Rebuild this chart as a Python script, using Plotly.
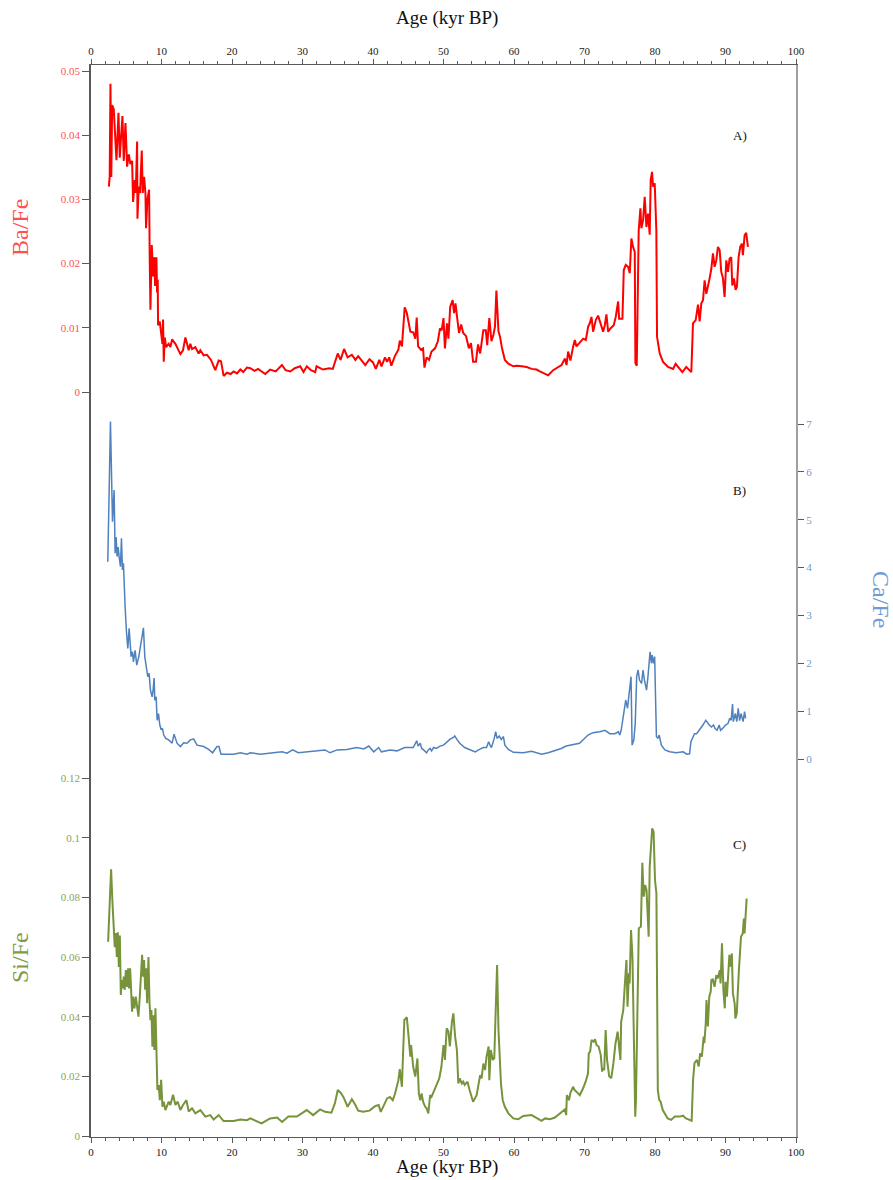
import plotly.graph_objects as go

# ---------------- data ----------------
ba_age = [2.53, 2.65, 2.76, 2.88, 3.00, 3.23, 3.61, 3.90, 4.08, 4.27, 4.46, 4.65, 4.89, 5.12, 5.36, 5.59, 5.83, 5.97,
          6.21, 6.35, 6.54, 6.59, 6.77, 6.96, 7.20, 7.34, 7.53, 7.72, 7.81, 8.00, 8.24, 8.33, 8.43, 8.62, 8.81, 8.99,
          9.09, 9.28, 9.37, 9.47, 9.51, 9.75, 9.94, 10.13, 10.22, 10.32, 10.46, 10.65, 11.02, 11.26, 11.50, 11.97,
          12.68, 13.05, 13.39, 13.86, 14.09, 14.33, 14.80, 15.27, 15.51, 15.98, 16.45, 17.02, 17.63, 18.11, 18.44,
          18.81, 19.29, 19.8, 20.23, 20.7, 21.18, 21.6, 22.12,
          22.6, 23.2, 23.7, 24.72, 25.4, 26.2, 27.08, 27.6, 28.26, 28.9, 29.67, 30.14, 30.62, 31.2, 31.80, 32.0, 32.9, 33.8, 34.3,
          35.0, 35.4, 35.9, 36.4, 37.0, 37.5, 37.9, 38.9, 39.5, 40.0, 40.4, 40.9, 41.2, 41.7, 42.0, 42.3, 42.6,
          43.1, 43.6, 43.8, 44.1, 44.5, 44.8, 45.3, 45.7, 46.0, 46.2, 46.4, 46.8, 47.1, 47.3, 47.6, 47.95, 48.3,
          48.8, 49.2, 49.5, 49.74, 50.0, 50.2, 50.5, 50.7, 50.95, 51.3, 51.5, 51.7, 52.0, 52.2, 52.5, 52.8, 53.2,
          53.6, 53.9, 54.2, 54.6, 54.9, 55.2, 55.4, 55.65, 56.0, 56.2, 56.5, 56.8, 57.1, 57.3, 57.5, 57.8, 58.0,
          58.3, 58.7, 59.2, 59.9, 60.4, 61.1, 61.8, 62.5, 63.2,
          63.67, 64.85, 65.56, 66.27, 66.74, 67.21, 67.45, 67.68, 68.01, 68.39, 68.63, 68.86, 69.34, 69.81, 70.19,
          70.52, 70.75, 70.99, 71.22, 71.60, 71.93, 72.31, 72.64, 72.88, 73.11, 73.35, 73.68, 74.15, 74.43, 74.77,
          74.91, 75.38, 75.57, 75.85, 76.18, 76.42, 76.65, 76.89, 77.13, 77.22, 77.41, 77.69, 77.93, 78.07, 78.31,
          78.54, 78.78, 79.01, 79.25, 79.39, 79.58, 79.72, 79.96, 80.19, 80.29, 80.67, 81.14, 81.85, 82.56, 82.93,
          83.50, 83.88, 84.44, 85.15, 85.39, 85.77, 86.10, 86.33, 86.57, 86.81, 87.04, 87.28, 87.75, 87.99, 88.22,
          88.46, 88.69, 88.93, 89.17, 89.40, 89.64, 89.87, 90.11, 90.35, 90.58, 90.82, 90.96, 91.20, 91.43, 91.62,
          91.86, 92.09, 92.33, 92.47, 92.71, 92.94, 93.18]
ba_fe = [0.032, 0.0335, 0.048, 0.0335, 0.0447, 0.044, 0.0361, 0.0435, 0.0365, 0.040, 0.043, 0.036, 0.0419, 0.0351,
         0.037, 0.0355, 0.036, 0.0296, 0.033, 0.031, 0.039, 0.027, 0.032, 0.031, 0.0376, 0.031, 0.0335, 0.031, 0.0255,
         0.030, 0.0315, 0.0206, 0.0128, 0.0229, 0.018, 0.021, 0.0165, 0.021, 0.0155, 0.0175, 0.0104, 0.011, 0.0095,
         0.0075, 0.0113, 0.0047, 0.0085, 0.007, 0.0075, 0.007, 0.0082, 0.0075, 0.0059, 0.0065, 0.0085, 0.0065,
         0.0075, 0.0067, 0.007, 0.006, 0.0065, 0.0057, 0.0058, 0.005, 0.0034, 0.0049, 0.0048, 0.0025, 0.003, 0.0028,
         0.0032, 0.0029, 0.0035, 0.0031, 0.0038,
         0.0037, 0.0033, 0.0036, 0.0028, 0.0035, 0.0032, 0.0042, 0.0034, 0.0032, 0.0037, 0.004, 0.0031, 0.004, 0.0034, 0.0031, 0.004,
         0.0035, 0.0037, 0.0036, 0.006, 0.005, 0.0067, 0.0054, 0.0058, 0.005, 0.0056, 0.0042, 0.0051, 0.0046,
         0.0036, 0.005, 0.004, 0.0054, 0.0047, 0.0054, 0.0041, 0.0056, 0.0066, 0.008, 0.0071, 0.0132, 0.0123,
         0.0094, 0.0093, 0.0083, 0.0116, 0.0071, 0.0066, 0.0068, 0.0038, 0.0054, 0.005, 0.0063, 0.0068, 0.0079,
         0.0099, 0.0096, 0.0115, 0.0068, 0.0107, 0.0083, 0.0133, 0.0143, 0.0123, 0.0138, 0.011, 0.0092, 0.0105,
         0.0092, 0.0087, 0.0068, 0.0076, 0.0047, 0.0047, 0.0074, 0.006, 0.0074, 0.0096, 0.0096, 0.0073, 0.0115,
         0.0079, 0.009, 0.0102, 0.0158, 0.0094, 0.0087, 0.0068, 0.005, 0.0044, 0.004, 0.0041, 0.004, 0.0039,
         0.0036, 0.0035,
         0.0032, 0.0026, 0.0034, 0.0039, 0.0042, 0.0052, 0.0042, 0.0063, 0.0049, 0.0071, 0.0081, 0.0071, 0.0078,
         0.0083, 0.0081, 0.0102, 0.0107, 0.0117, 0.0094, 0.0112, 0.0119, 0.0107, 0.0094, 0.0104, 0.0121, 0.0094,
         0.0099, 0.0104, 0.0117, 0.0141, 0.0114, 0.0114, 0.019, 0.0198, 0.0195, 0.0185, 0.0239, 0.0226, 0.0218,
         0.0045, 0.0041, 0.0252, 0.0286, 0.0255, 0.0268, 0.0304, 0.0257, 0.0278, 0.0245, 0.033, 0.0343, 0.032,
         0.0325, 0.0252, 0.0086, 0.006, 0.0047, 0.0039, 0.0036, 0.0044, 0.0036, 0.0031, 0.0039, 0.0031, 0.0107,
         0.0112, 0.0136, 0.011, 0.0138, 0.0143, 0.0174, 0.0153, 0.0177, 0.0192, 0.0216, 0.0195, 0.0205, 0.0226,
         0.0221, 0.0187, 0.0177, 0.0148, 0.0205, 0.0187, 0.0208, 0.021, 0.0166, 0.0177, 0.0159, 0.0164, 0.021,
         0.0226, 0.0231, 0.0213, 0.0244, 0.0248, 0.0226]

ca_age = [2.38, 2.76, 3.05, 3.28, 3.42, 3.56, 3.70, 3.85, 3.99, 4.18, 4.32, 4.46, 4.60, 4.70, 4.84, 5.03, 5.22, 5.41,
          5.55, 5.69, 5.88, 6.02, 6.26, 6.49, 6.78, 7.01, 7.25, 7.44, 7.63, 7.86, 8.05, 8.24, 8.43, 8.67, 8.81, 8.95,
          9.05, 9.24, 9.38, 9.57, 9.76, 9.95, 10.13, 10.32, 10.60, 11.02, 11.50, 11.78, 12.20, 12.68, 13.15, 13.62,
          14.09, 14.56, 15.04, 15.98, 16.69, 17.25, 17.87, 18.15, 18.44, 20.23, 21.18, 22.12,
          22.6, 24.0, 25.4, 27.1, 27.8, 28.6, 29.4, 30.9, 32.3, 33.2, 33.9, 34.9, 36.3, 37.7, 38.7, 39.4, 40.1,
          40.8, 41.2, 42.4, 43.4, 44.5, 45.0, 45.7, 46.2, 46.4, 46.7, 46.9, 47.1, 47.4, 47.6, 47.85, 48.1, 48.3,
          48.6, 49.0, 49.5, 50.0, 50.5, 50.9, 51.4, 51.6, 51.9, 52.3, 53.0, 53.8, 54.5, 55.1, 55.65, 56.1, 56.4,
          56.6, 56.8, 57.2, 57.4, 57.6, 57.9, 58.2, 58.5, 58.7, 59.2, 59.9, 61.3, 62.5, 63.2, 63.9, 64.85, 65.8,
          66.7, 67.4, 67.9, 68.4, 69.3, 70.5, 71.2,
          72.17, 72.9, 73.6, 74.3, 74.8, 75.0, 75.2, 75.5, 75.85, 76.1, 76.3, 76.6, 76.75, 77.0, 77.2, 77.4, 77.6,
          77.8, 78.1, 78.3, 78.5, 78.8, 79.0, 79.3, 79.5, 79.6, 79.8, 79.95, 80.2, 80.4, 80.6, 80.9, 81.4, 82.1,
          83.0, 84.0, 84.5, 84.9, 85.1, 85.4, 85.6, 85.9, 86.3, 86.8, 87.2, 87.4, 87.7, 88.0, 88.3, 88.5, 88.8,
          89.1, 89.3, 89.6, 90.0, 90.35, 90.6, 90.8, 91.0, 91.1, 91.4, 91.6, 91.8, 92.0, 92.2, 92.5, 92.7, 92.85]
ca_fe = [4.12, 7.05, 4.96, 5.62, 4.30, 4.64, 4.23, 4.43, 4.23, 4.02, 4.61, 3.95, 4.09, 3.50, 3.18, 2.66, 2.31, 2.73,
         2.38, 2.14, 2.24, 2.03, 2.27, 1.96, 2.14, 2.38, 2.63, 2.74, 2.14, 1.93, 1.72, 1.79, 1.44, 1.30, 1.44, 1.69,
         1.23, 1.30, 0.81, 0.95, 0.71, 0.61, 0.64, 0.50, 0.43, 0.40, 0.33, 0.52, 0.33, 0.26, 0.34, 0.33, 0.40, 0.42,
         0.29, 0.26, 0.20, 0.13, 0.26, 0.26, 0.10, 0.10, 0.13, 0.10,
         0.13, 0.10, 0.12, 0.15, 0.12, 0.19, 0.13, 0.15, 0.17, 0.19, 0.13, 0.19, 0.20, 0.24, 0.21, 0.27, 0.15,
         0.24, 0.15, 0.19, 0.17, 0.24, 0.24, 0.24, 0.38, 0.27, 0.33, 0.22, 0.20, 0.15, 0.13, 0.19, 0.22, 0.17,
         0.24, 0.22, 0.27, 0.29, 0.36, 0.41, 0.45, 0.48, 0.41, 0.33, 0.24, 0.20, 0.15, 0.20, 0.24, 0.24, 0.36,
         0.29, 0.24, 0.43, 0.57, 0.43, 0.48, 0.41, 0.47, 0.29, 0.20, 0.14, 0.13, 0.16, 0.13, 0.10, 0.13, 0.17,
         0.22, 0.27, 0.29, 0.31, 0.33, 0.50, 0.55,
         0.57, 0.60, 0.53, 0.53, 0.57, 0.50, 0.60, 0.85, 1.23, 1.06, 1.30, 1.72, 0.29, 0.40, 0.75, 1.72, 1.86,
         1.65, 1.58, 1.86, 1.65, 1.44, 1.72, 2.24, 2.00, 2.17, 2.00, 2.14, 0.47, 0.43, 0.50, 0.29, 0.19, 0.15,
         0.13, 0.15, 0.10, 0.11, 0.36, 0.47, 0.53, 0.53, 0.60, 0.71, 0.81, 0.76, 0.71, 0.67, 0.71, 0.64, 0.60,
         0.71, 0.60, 0.64, 0.71, 0.74, 0.85, 0.81, 1.15, 0.78, 0.95, 0.78, 1.06, 0.80, 0.95, 0.78, 0.99, 0.85]

si_age = [2.43, 2.85, 3.05, 3.23, 3.37, 3.52, 3.66, 3.80, 3.95, 4.09, 4.23, 4.37, 4.51, 4.65, 4.79, 4.94, 5.12, 5.27,
          5.41, 5.55, 5.69, 5.83, 5.97, 6.16, 6.35, 6.54, 6.73, 6.92, 7.11, 7.25, 7.39, 7.53, 7.68, 7.82, 7.96, 8.15,
          8.29, 8.43, 8.57, 8.71, 8.85, 8.99, 9.14, 9.28, 9.42, 9.61, 9.76, 9.95, 10.13, 10.32, 10.55, 11.02, 11.26,
          11.64, 11.97, 12.30, 12.68, 13.05, 13.53, 13.86, 14.33, 14.80, 15.51, 16.22, 16.92, 17.40, 18.11, 18.81,
          20.23, 21.18, 22.12,
          22.6, 24.2, 25.4, 26.4, 27.1, 28.0, 29.2, 30.6, 31.5, 32.5, 33.2, 34.1, 34.6, 35.0, 35.4, 35.8, 36.4,
          37.0, 37.5, 37.9, 38.6, 39.5, 40.3, 40.8, 41.1, 41.5, 42.0, 42.4, 42.8, 43.1, 43.6, 43.8, 44.1, 44.3,
          44.45, 44.8, 45.0, 45.3, 45.4, 45.7, 46.0, 46.3, 46.5, 46.7, 46.9, 47.1, 47.4, 47.6, 47.85, 48.1, 48.3,
          48.6, 49.0, 49.4, 49.7, 50.0, 50.2, 50.45, 50.7, 50.9, 51.2, 51.4, 51.65, 51.9, 52.1, 52.3, 52.6, 52.8,
          53.0, 53.4, 53.7, 54.0, 54.2, 54.7, 55.2, 55.4, 55.65, 55.9, 56.1, 56.4, 56.5, 56.7, 57.0, 57.2, 57.4,
          57.6, 57.8, 58.0, 58.15, 58.4, 58.7, 59.2, 59.9, 60.6, 61.3, 62.5, 63.2, 63.9, 64.4, 65.1, 65.8, 66.5,
          67.2, 67.4, 67.5, 67.8, 68.0, 68.4, 68.6, 69.1,
          69.33, 69.8, 70.16, 70.5, 70.6, 70.8, 71.0, 71.3, 71.5, 71.7, 72.0, 72.3, 72.5, 72.6, 72.8, 73.0, 73.2,
          73.5, 73.8, 74.1, 74.4, 74.7, 74.9, 75.1, 75.2, 75.5, 75.7, 75.95, 76.1, 76.3, 76.4, 76.6, 76.8, 77.0,
          77.2, 77.3, 77.6, 77.7, 78.0, 78.1, 78.2, 78.4, 78.6, 78.8, 79.0, 79.1, 79.25, 79.4, 79.6, 79.8, 80.0,
          80.2, 80.4, 80.6, 80.8, 81.1, 81.5, 81.8, 82.3, 82.8, 83.5, 83.97, 84.4, 85.05, 85.2, 85.4, 85.6, 85.95,
          86.2, 86.4, 86.65, 86.9, 87.0, 87.2, 87.3, 87.5, 87.7, 87.9, 88.0, 88.2, 88.45, 88.7, 88.9, 89.2, 89.3,
          89.5, 89.7, 89.9, 90.0, 90.2, 90.35, 90.55, 90.7, 90.9, 91.05, 91.3, 91.4, 91.6, 91.9, 92.2, 92.45, 92.6,
          92.7, 93.0]
si_fe = [0.0651, 0.0894, 0.078, 0.0666, 0.0633, 0.068, 0.060, 0.0683, 0.0567, 0.0672, 0.0473, 0.0523, 0.0495, 0.0534,
         0.049, 0.0556, 0.050, 0.0562, 0.0495, 0.0562, 0.0456, 0.0417, 0.0467, 0.0428, 0.0467, 0.044, 0.040, 0.0467,
         0.0534, 0.0607, 0.0534, 0.059, 0.049, 0.0562, 0.0445, 0.060, 0.0456, 0.0388, 0.0422, 0.0299, 0.0405,
         0.0288, 0.0428, 0.0227, 0.0154, 0.0171, 0.0120, 0.0188, 0.0098, 0.0115, 0.0087, 0.0115, 0.0104, 0.0138,
         0.0104, 0.0115, 0.0087, 0.0104, 0.012, 0.0082, 0.0093, 0.0076, 0.0087, 0.0065, 0.007, 0.0055, 0.007, 0.005,
         0.005, 0.0055, 0.0053,
         0.0059, 0.0042, 0.0059, 0.0062, 0.0047, 0.0065, 0.0065, 0.0087, 0.0070, 0.0089, 0.0081, 0.0078, 0.011,
         0.0154, 0.0145, 0.0131, 0.0098, 0.0123, 0.0104, 0.0085, 0.0081, 0.0085, 0.01, 0.0104, 0.0081, 0.01,
         0.0126, 0.0131, 0.012, 0.014, 0.0187, 0.0224, 0.0165, 0.030, 0.0389, 0.0398, 0.0333, 0.0266, 0.0305,
         0.0232, 0.0199, 0.026, 0.0143, 0.012, 0.0143, 0.0115, 0.0098, 0.0093, 0.0076, 0.0137, 0.0131, 0.0148,
         0.0176, 0.0193, 0.0232, 0.0305, 0.0255, 0.0361, 0.035, 0.030, 0.0383, 0.0411, 0.0333, 0.0288, 0.0176,
         0.0193, 0.0176, 0.0182, 0.0171, 0.0182, 0.0154, 0.0126, 0.0115, 0.0137, 0.0204, 0.0193, 0.0243, 0.0221,
         0.0266, 0.030, 0.0187, 0.0288, 0.0255, 0.026, 0.0400, 0.0573, 0.0355, 0.0266, 0.0176, 0.012, 0.0098,
         0.0076, 0.0059, 0.0056, 0.0067, 0.007, 0.0061, 0.0051, 0.0059, 0.0056, 0.0062, 0.0076, 0.0089, 0.007,
         0.0137, 0.012, 0.0145, 0.0165, 0.0154, 0.0143,
         0.0137, 0.0160, 0.0182, 0.0210, 0.0277, 0.0283, 0.0322, 0.0316, 0.0324, 0.0305, 0.030, 0.0272, 0.0216,
         0.0227, 0.0221, 0.0355, 0.0255, 0.020, 0.0194, 0.0244, 0.0311, 0.035, 0.030, 0.0255, 0.0383, 0.0422,
         0.050, 0.059, 0.0433, 0.0545, 0.0511, 0.069, 0.0601, 0.0333, 0.0065, 0.0121, 0.0556, 0.0696, 0.0702,
         0.0847, 0.0916, 0.0802, 0.0841, 0.0824, 0.0702, 0.0668, 0.0903, 0.097, 0.1031, 0.102, 0.0858, 0.0813,
         0.0154, 0.0121, 0.0115, 0.0087, 0.0070, 0.0059, 0.0054, 0.0065, 0.0065, 0.0068, 0.0059, 0.0051, 0.0051,
         0.0188, 0.0244, 0.0255, 0.0233, 0.0277, 0.0266, 0.0333, 0.0311, 0.0378, 0.0456, 0.0367, 0.0467, 0.0484,
         0.0523, 0.0525, 0.050, 0.0539, 0.0528, 0.0556, 0.0511, 0.0646, 0.0489, 0.0428, 0.0517, 0.0467, 0.0523,
         0.0607, 0.0568, 0.0612, 0.0478, 0.0444, 0.0394, 0.0411, 0.0556, 0.0668, 0.0679, 0.0729, 0.0679, 0.0796]

x_ticks = [0, 10, 20, 30, 40, 50, 60, 70, 80, 90, 100]
ba_ticks = [0, 0.01, 0.02, 0.03, 0.04, 0.05]
ba_ticktext = ["0", "0.01", "0.02", "0.03", "0.04", "0.05"]
ca_ticks = [0, 1, 2, 3, 4, 5, 6, 7]
si_ticks = [0, 0.02, 0.04, 0.06, 0.08, 0.1, 0.12]
si_ticktext = ["0", "0.02", "0.04", "0.06", "0.08", "0.1", "0.12"]

# ---------------- layout geometry ----------------
W, H = 893, 1180
L, R, T, B = 91, 97, 65, 43
PH = H - T - B
PW = W - L - R


def axis_range(v_lo, px_lo, v_hi, px_hi):
    """Range so that value v_lo sits at pixel row px_lo and v_hi at px_hi."""
    s = (px_lo - px_hi) / (v_hi - v_lo)
    top = v_hi + (px_hi - T) / s
    bot = v_lo - ((T + PH) - px_lo) / s
    return [bot, top]


def px_x(px):
    return (px - L) / PW


def px_y(py):
    return (T + PH - py) / PH


FONT = "Liberation Serif"
RED, BLUE, GREEN = "#FF0000", "#4F81BD", "#77933C"
AXC = "#595959"

fig = go.Figure()
fig.add_trace(go.Scatter(x=ba_age, y=ba_fe, mode="lines", line=dict(color=RED, width=2),
                         xaxis="x", yaxis="y", showlegend=False))
fig.add_trace(go.Scatter(x=ca_age, y=ca_fe, mode="lines", line=dict(color=BLUE, width=1.5),
                         xaxis="x", yaxis="y2", showlegend=False))
fig.add_trace(go.Scatter(x=si_age, y=si_fe, mode="lines", line=dict(color=GREEN, width=2),
                         xaxis="x", yaxis="y3", showlegend=False))
fig.add_trace(go.Scatter(x=[], y=[], mode="lines", xaxis="x2", yaxis="y", showlegend=False,
                         hoverinfo="skip"))

xcommon = dict(range=[0, 100], tickvals=x_ticks, showgrid=False, zeroline=False, showline=True,
               linecolor=AXC, linewidth=1, ticks="outside", ticklen=5, tickcolor=AXC, tickwidth=1,
               minor=dict(dtick=2, ticks="outside", ticklen=3, tickcolor=AXC),
               tickfont=dict(family=FONT, size=11, color="#222222"))

fig.update_layout(
    width=W, height=H,
    margin=dict(l=L, r=R, t=T, b=B),
    paper_bgcolor="white", plot_bgcolor="white",
    font=dict(family=FONT),
    xaxis=dict(**xcommon, anchor="y", side="bottom"),
    xaxis2=dict(**xcommon, anchor="y", side="top", overlaying="x"),
    yaxis=dict(domain=[0, 1], range=axis_range(0, 392, 0.05, 71), tickvals=ba_ticks, ticktext=ba_ticktext,
               side="left", anchor="x", showgrid=False, zeroline=False, showline=True, linecolor=AXC,
               linewidth=1.5, ticks="outside", ticklen=7, tickcolor=AXC,
               tickfont=dict(family=FONT, size=11, color="#FF5050")),
    yaxis2=dict(range=axis_range(0, 759, 7, 424), tickvals=ca_ticks, side="right", anchor="x",
                overlaying="y", showgrid=False, zeroline=False, showline=True, linecolor="#A0A0A0",
                linewidth=2, ticks="outside", ticklen=6, tickcolor=AXC,
                tickfont=dict(family=FONT, size=11, color="#6F9BD3")),
    yaxis3=dict(range=axis_range(0, 1136, 0.12, 778), tickvals=si_ticks, ticktext=si_ticktext, side="left",
                anchor="x", overlaying="y", showgrid=False, zeroline=False, showline=True, linecolor=AXC,
                linewidth=1.5, ticks="outside", ticklen=7, tickcolor=AXC,
                tickfont=dict(family=FONT, size=11, color="#8AA35A")),
)

annots = [
    dict(text="Age (kyr BP)", x=px_x(447), y=px_y(18), font=dict(size=19, color="#111111")),
    dict(text="Age (kyr BP)", x=px_x(447), y=px_y(1167), font=dict(size=19, color="#111111")),
    dict(text="Ba/Fe", x=px_x(20), y=px_y(228), textangle=-90, font=dict(size=24, color="#FF5050")),
    dict(text="Si/Fe", x=px_x(20), y=px_y(958), textangle=-90, font=dict(size=24, color="#7E9B45")),
    dict(text="Ca/Fe", x=px_x(881), y=px_y(599), textangle=90, font=dict(size=24, color="#6F9BD3")),
    dict(text="A)", x=px_x(740), y=px_y(136), font=dict(size=13, color="#111111")),
    dict(text="B)", x=px_x(739), y=px_y(491), font=dict(size=13, color="#111111")),
    dict(text="C)", x=px_x(739), y=px_y(844), font=dict(size=13, color="#111111")),
]
for a in annots:
    fig.add_annotation(xref="paper", yref="paper", showarrow=False, xanchor="center", yanchor="middle",
                       font_family=FONT, **a)

fig.write_html("out.html", config={"displayModeBar": False},
               post_script="document.body.style.margin='0';document.body.style.overflow='hidden';")
